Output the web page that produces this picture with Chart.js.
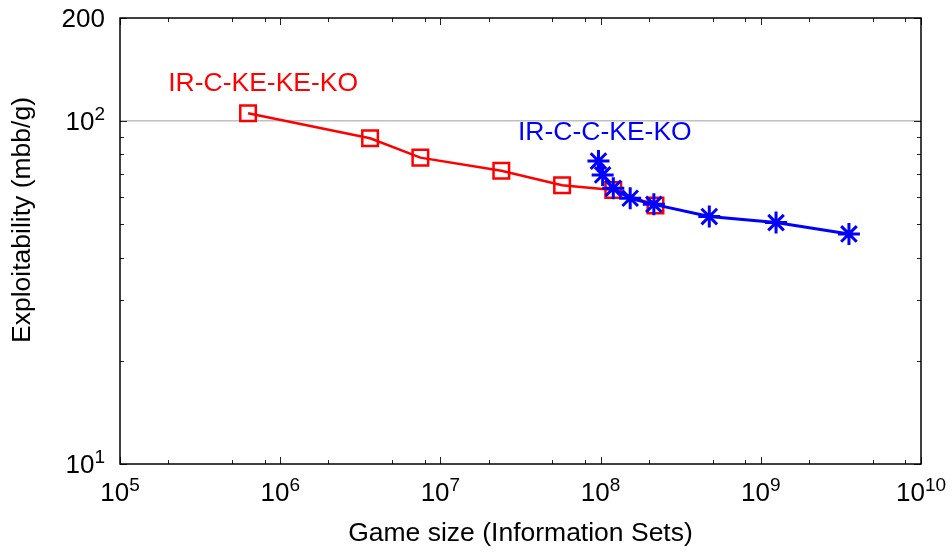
<!DOCTYPE html>
<html lang="en">
<head>
<meta charset="UTF-8">
<title>Exploitability vs game size</title>
<script src="https://cdn.jsdelivr.net/npm/chart.js"></script>
<style>
  body { margin: 0; background: #fff; }
  canvas { display: block; }
</style>
</head>
<body>
<canvas id="myChart" width="952" height="552"></canvas>
<script>
// series names
var seriesNames = ['IR-C-KE-KE-KO', 'IR-C-C-KE-KO'];

// IR-C-KE-KE-KO (red squares): game size, exploitability
var redSize = [6.3e5, 3.64e6, 7.5e6, 2.4e7, 5.75e7, 1.2e8, 2.2e8];
var redExpl = [105.5, 89.2, 78.3, 71.7, 65.0, 63.0, 56.8];

// IR-C-C-KE-KO (blue asterisks)
var blueSize = [9.7e7, 1.03e8, 1.2e8, 1.53e8, 2.15e8, 4.77e8, 1.245e9, 3.55e9];
var blueExpl = [76.5, 69.7, 63.7, 59.6, 57.2, 52.7, 50.6, 46.9];

// tick labels
var xTickValues = [1e5, 1e6, 1e7, 1e8, 1e9, 1e10];
var xTickExp = ['5', '6', '7', '8', '9', '10'];
var xMinorMult = [2, 5, 8];
var yTickValues = [10, 100, 200];
var yTickBase = ['10', '10', '200'];
var yTickSup = ['1', '2', ''];
var yMinor = [20, 30, 40, 50, 60, 70, 80, 90];
var yGridLines = [100];

var xTitle = 'Game size (Information Sets)';
var yTitle = 'Exploitability (mbb/g)';

// where the series names sit, in data units
var nameAnchor = [[2e5, 129], [3.05e7, 92.4]];
var nameColor = ['#ff0000', '#0000ff'];

var FONT = '"Liberation Sans", Arial, Helvetica, sans-serif';

function points(xs, ys) {
    return xs.map(function (x, i) { return { x: x, y: ys[i] }; });
}

// draws "base" with a raised exponent; align = 'center' or 'right'
function drawPow(ctx, base, sup, x, baseline, align) {
    ctx.font = '26px ' + FONT;
    var wb = ctx.measureText(base).width;
    ctx.font = '19px ' + FONT;
    var ws = sup ? ctx.measureText(sup).width : 0;
    var total = wb + ws;
    var start = align === 'right' ? x - total : x - total / 2;
    ctx.textAlign = 'left';
    ctx.textBaseline = 'alphabetic';
    ctx.font = '26px ' + FONT;
    ctx.fillText(base, start, baseline);
    if (sup) {
        ctx.font = '19px ' + FONT;
        ctx.fillText(sup, start + wb, baseline - 10);
    }
}

var framePlugin = {
    id: 'frame',
    afterDraw: function (chart) {
        var ctx = chart.ctx, a = chart.chartArea;
        var xs = chart.scales.x, ys = chart.scales.y;
        ctx.save();

        // ticks, inside on all four sides
        ctx.strokeStyle = '#222';
        ctx.lineWidth = 1;
        function xTick(v, len) {
            var px = Math.round(xs.getPixelForValue(v)) + 0.5;
            ctx.beginPath();
            ctx.moveTo(px, a.bottom); ctx.lineTo(px, a.bottom - len);
            ctx.moveTo(px, a.top); ctx.lineTo(px, a.top + len);
            ctx.stroke();
        }
        function yTick(v, len) {
            var py = Math.round(ys.getPixelForValue(v)) + 0.5;
            ctx.beginPath();
            ctx.moveTo(a.left, py); ctx.lineTo(a.left + len, py);
            ctx.moveTo(a.right, py); ctx.lineTo(a.right - len, py);
            ctx.stroke();
        }
        xTickValues.forEach(function (v, i) {
            xTick(v, 7);
            if (i < xTickValues.length - 1) {
                xMinorMult.forEach(function (m) { xTick(v * m, 4); });
            }
        });
        yTickValues.forEach(function (v) { yTick(v, 7); });
        yMinor.forEach(function (v) { yTick(v, 4); });

        // box
        ctx.strokeStyle = '#000';
        ctx.lineWidth = 1.5;
        ctx.strokeRect(a.left, a.top, a.right - a.left, a.bottom - a.top);

        // tick labels
        ctx.fillStyle = '#000';
        xTickValues.forEach(function (v, i) {
            drawPow(ctx, '10', xTickExp[i], xs.getPixelForValue(v), a.bottom + 37);
        });
        yTickValues.forEach(function (v, i) {
            drawPow(ctx, yTickBase[i], yTickSup[i], a.left - 15, ys.getPixelForValue(v) + 9, 'right');
        });

        // axis titles
        ctx.font = '26.5px ' + FONT;
        ctx.textAlign = 'center';
        ctx.textBaseline = 'middle';
        ctx.fillText(xTitle, (a.left + a.right) / 2, a.bottom + 70);
        ctx.save();
        ctx.translate(23, 220);
        ctx.rotate(-Math.PI / 2);
        ctx.fillText(yTitle, 0, 0);
        ctx.restore();

        // series names
        ctx.font = '26.5px ' + FONT;
        ctx.textAlign = 'left';
        seriesNames.forEach(function (name, i) {
            ctx.fillStyle = nameColor[i];
            ctx.fillText(name, xs.getPixelForValue(nameAnchor[i][0]), ys.getPixelForValue(nameAnchor[i][1]));
        });
        ctx.restore();
    }
};

var data = {
    datasets: [{
        label: seriesNames[0],
        data: points(redSize, redExpl),
        borderColor: '#ff0000',
        borderWidth: 2.5,
        pointStyle: 'rect',
        pointRadius: 11,
        pointBorderWidth: 2.5,
        pointBackgroundColor: 'rgba(0,0,0,0)',
        pointBorderColor: '#ff0000',
        tension: 0,
        order: 2
    }, {
        label: seriesNames[1],
        data: points(blueSize, blueExpl),
        borderColor: '#0000ff',
        borderWidth: 3,
        pointStyle: 'star',
        pointRadius: 11,
        pointBorderWidth: 3,
        pointBackgroundColor: '#0000ff',
        pointBorderColor: '#0000ff',
        tension: 0,
        order: 1
    }]
};

var options = {
    responsive: false,
    animation: false,
    layout: { padding: { left: 120, right: 31, top: 18, bottom: 88 } },
    plugins: { legend: { display: false }, tooltip: { enabled: false } },
    scales: {
        x: {
            type: 'logarithmic',
            min: 1e5,
            max: 1e10,
            ticks: { display: false },
            grid: { display: false, drawTicks: false },
            border: { display: false }
        },
        y: {
            type: 'logarithmic',
            min: 10,
            max: 200,
            afterBuildTicks: function (scale) {
                scale.ticks = yGridLines.map(function (v) { return { value: v }; });
            },
            ticks: { display: false },
            grid: { color: '#c0c0c0', lineWidth: 1.5, drawTicks: false },
            border: { display: false }
        }
    }
};

var ctx = document.getElementById('myChart').getContext('2d');
var myChart = new Chart(ctx, {
    type: 'line',
    data: data,
    options: options,
    plugins: [framePlugin]
});
</script>
</body>
</html>
